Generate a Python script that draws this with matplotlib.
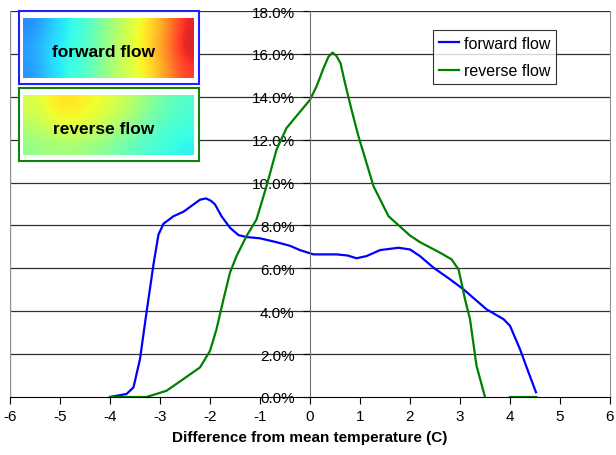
import numpy as np
import matplotlib
matplotlib.use("Agg")
import matplotlib.pyplot as plt

plt.rcParams['font.family'] = ['Liberation Sans', 'DejaVu Sans']

# dati (x in gradi C, y in %)
fwd_x = [-4.0, -3.67, -3.53, -3.4, -3.27, -3.13, -3.03, -2.93, -2.73, -2.53, -2.33, -2.2, -2.08,
         -1.98, -1.9, -1.77, -1.6, -1.43, -1.27, -1.0, -0.67, -0.4, -0.2, 0.07, 0.53, 0.75, 0.93,
         1.13, 1.4, 1.77, 2.0, 2.2, 2.47, 2.8, 3.07, 3.53, 3.87, 4.0, 4.2, 4.37, 4.52]
fwd_y = [0.0, 0.14, 0.45, 1.77, 3.94, 6.19, 7.58, 8.08, 8.43, 8.64, 8.98, 9.2, 9.26,
         9.15, 8.98, 8.43, 7.89, 7.55, 7.46, 7.4, 7.22, 7.05, 6.85, 6.65, 6.65, 6.6, 6.47,
         6.57, 6.85, 6.96, 6.88, 6.57, 6.03, 5.49, 5.02, 4.09, 3.63, 3.32, 2.23, 1.15, 0.22]

rev_x = [-4.0, -3.27, -2.87, -2.53, -2.2, -2.0, -1.87, -1.73, -1.6, -1.47, -1.27, -1.07,
         -0.87, -0.67, -0.47, -0.2, 0.0, 0.13, 0.27, 0.37, 0.45, 0.53, 0.61, 0.7, 0.83,
         0.97, 1.07, 1.27, 1.57, 2.0, 2.2, 2.6, 2.83, 2.97, 3.03, 3.1, 3.2, 3.33, 3.5,
         3.75, 4.0, 4.53]
rev_y = [0.0, 0.0, 0.29, 0.84, 1.38, 2.15, 3.16, 4.56, 5.8, 6.57, 7.5, 8.28,
         9.83, 11.53, 12.54, 13.3, 13.86, 14.48, 15.33, 15.87, 16.06, 15.9, 15.57, 14.64, 13.4,
         12.15, 11.38, 9.83, 8.43, 7.53, 7.22, 6.73, 6.42, 5.95, 5.33, 4.56, 3.63, 1.46, 0.0,
         np.nan, 0.0, 0.0]

x_ticks = list(range(-6, 7))
y_ticks = list(range(0, 19, 2))

# mappe di temperatura (valori indicativi per le due immagini)
fwd_map = [[0.24, 0.30, 0.36, 0.39, 0.47, 0.55, 0.62, 0.68, 0.78, 0.92],
           [0.27, 0.33, 0.37, 0.40, 0.48, 0.56, 0.63, 0.70, 0.80, 0.95],
           [0.25, 0.32, 0.37, 0.40, 0.48, 0.56, 0.62, 0.68, 0.77, 0.88]]
rev_map = [[0.60, 0.69, 0.66, 0.62, 0.56, 0.47, 0.41],
           [0.56, 0.64, 0.62, 0.58, 0.50, 0.43, 0.39],
           [0.50, 0.53, 0.52, 0.48, 0.43, 0.39, 0.36]]

W, H = 616, 456
fig = plt.figure(figsize=(W / 100, H / 100), dpi=100)
ax = fig.add_axes([10 / W, (H - 398) / H, 600 / W, 386 / H])

ax.plot(fwd_x, fwd_y, color='#0000ff', lw=1.6, label='forward flow')
ax.plot(rev_x, rev_y, color='#008000', lw=1.6, label='reverse flow')

ax.set_xlim(-6, 6)
ax.set_ylim(0, 18)
ax.set_xticks(x_ticks)
ax.set_yticks(y_ticks)
ax.set_xticklabels([str(v) for v in x_ticks])
ax.set_yticklabels([f"{v:.1f}%" for v in y_ticks])

for v in y_ticks[1:]:
    ax.axhline(v, color='#303030', lw=0.9, zorder=0)
ax.axvline(-6, color='#909090', lw=1, zorder=0)

ax.spines['left'].set_position(('data', 0))
ax.spines['left'].set_color('#707070')
ax.spines['right'].set_color('#909090')
ax.spines['top'].set_visible(False)
ax.spines['bottom'].set_color('black')
ax.tick_params(axis='x', direction='out', length=5, colors='black', labelsize=11, pad=4)
ax.tick_params(axis='y', direction='out', length=5, colors='black', labelsize=11, pad=6)

ax.set_xlabel("Difference from mean temperature (C)", fontsize=11, fontweight='bold', labelpad=5)

leg = ax.legend(loc='upper left', bbox_to_anchor=(423 / 600, 1 - 19 / 386), fontsize=11.5,
                frameon=True, fancybox=False, handlelength=1.3, handletextpad=0.3,
                borderpad=0.35, labelspacing=0.8, borderaxespad=0)
leg.get_frame().set_edgecolor('black')
leg.get_frame().set_linewidth(0.8)

# riquadri con le mappe
def inset(y_top, data, edge, label):
    a = fig.add_axes([19 / W, (H - y_top - 73) / H, 180 / W, 73 / H])
    a.set_xlim(0, 1)
    a.set_ylim(0, 1)
    a.imshow(data, cmap='jet', vmin=0, vmax=1, interpolation='bicubic',
             extent=(0.022, 0.972, 0.08, 0.89), aspect='auto', alpha=0.85)
    a.set_xticks([])
    a.set_yticks([])
    for s in a.spines.values():
        s.set_color(edge)
        s.set_linewidth(1.5)
    a.text(0.47, 0.45, label, ha='center', va='center', fontsize=12.5, fontweight='bold')

inset(12, fwd_map, '#2020ff', 'forward flow')
inset(89, rev_map, '#108010', 'reverse flow')

fig.savefig('out.png', dpi=100)
